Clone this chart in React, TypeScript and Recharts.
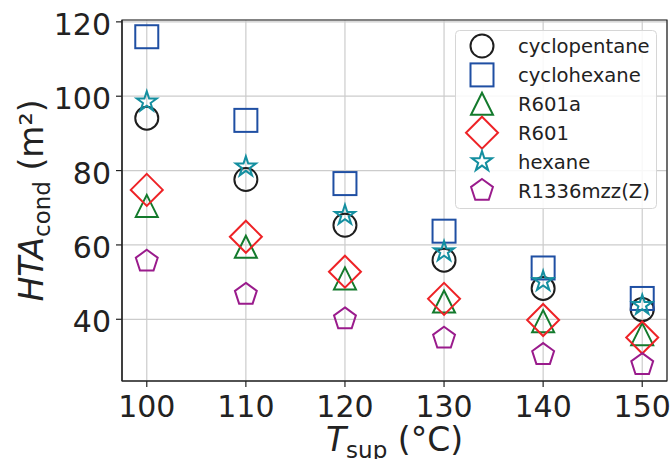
import { ScatterChart, Scatter, XAxis, YAxis, CartesianGrid, Legend, ReferenceArea } from "recharts";

const temps = [100, 110, 120, 130, 140, 150];
const cyclopentane = [94.1, 77.6, 65.3, 55.9, 48.3, 42.6];
const cyclohexane = [116.0, 93.5, 76.5, 63.7, 53.8, 45.6];
const r601a = [70.5, 59.5, 51.0, 44.8, 39.5, 36.0];
const r601 = [74.8, 62.2, 52.8, 45.5, 39.8, 35.1];
const hexane = [98.5, 81.0, 68.0, 58.2, 50.2, 43.8];
const r1336mzz = [55.6, 46.7, 40.1, 34.9, 30.5, 27.8];

const xTicks = [100, 110, 120, 130, 140, 150];
const yTicks = [40, 60, 80, 100, 120];
const xDomain = [97.5, 152.5];
const yDomain = [23.4, 120.5];

const FONT = "'DejaVu Sans', sans-serif";
const INK = "#222222";

const series = [
  { name: "cyclopentane", values: cyclopentane, kind: "circle", color: "#1e1e1e" },
  { name: "cyclohexane", values: cyclohexane, kind: "square", color: "#1f4fa3" },
  { name: "R601a", values: r601a, kind: "triangle", color: "#137a2c" },
  { name: "R601", values: r601, kind: "diamond", color: "#ee2226" },
  { name: "hexane", values: hexane, kind: "star", color: "#148fa0" },
  { name: "R1336mzz(Z)", values: r1336mzz, kind: "pentagon", color: "#9a1b8c" },
];

function polyPoints(cx: number, cy: number, pts: [number, number][]) {
  return pts.map(([x, y]) => `${cx + x},${cy + y}`).join(" ");
}

function ring(n: number, r: number, inner?: number) {
  const out: [number, number][] = [];
  const steps = inner ? n * 2 : n;
  for (let i = 0; i < steps; i++) {
    const a = -Math.PI / 2 + (i * 2 * Math.PI) / steps;
    const rad = inner && i % 2 === 1 ? inner : r;
    out.push([rad * Math.cos(a), rad * Math.sin(a)]);
  }
  return out;
}

function Marker({ kind, cx, cy, color }: { kind: string; cx: number; cy: number; color: string }) {
  const st = { fill: "none", stroke: color, strokeWidth: 2, strokeLinejoin: "miter" as const };
  if (kind === "circle") return <circle cx={cx} cy={cy} r={11.5} {...st} />;
  if (kind === "square") return <rect x={cx - 11.5} y={cy - 11.5} width={23} height={23} {...st} />;
  if (kind === "triangle")
    return <polygon points={polyPoints(cx, cy, [[0, -11], [-11, 11], [11, 11]])} {...st} />;
  if (kind === "diamond")
    return <polygon points={polyPoints(cx, cy, [[0, -16], [16, 0], [0, 16], [-16, 0]])} {...st} />;
  if (kind === "star") return <polygon points={polyPoints(cx, cy, ring(5, 10.5, 4.0))} {...st} />;
  return <polygon points={polyPoints(cx, cy, ring(5, 11.5))} {...st} />;
}

const XTick = (p: any) => (
  <text x={p.x} y={p.y} dy={29.5} textAnchor="middle" fontSize={30} fontFamily={FONT} fill={INK}>
    {p.payload.value}
  </text>
);

const YTick = (p: any) => (
  <text x={p.x} y={p.y} dy={13} textAnchor="end" fontSize={30} fontFamily={FONT} fill={INK}>
    {p.payload.value}
  </text>
);

const YLabel = (p: any) => {
  const vb = p.viewBox;
  const x = vb.x + 43;
  const y = vb.y + vb.height / 2;
  return (
    <text x={x} y={y} transform={`rotate(-90, ${x}, ${y})`} textAnchor="middle" fontSize={33} fontFamily={FONT} fill={INK}>
      <tspan fontStyle="italic">HTA</tspan>
      <tspan fontSize={23} dy={7}>cond</tspan>
      <tspan dy={-7}> (m²)</tspan>
    </text>
  );
};

const XLabel = (p: any) => {
  const vb = p.viewBox;
  const x = vb.x + vb.width / 2;
  return (
    <text x={x} y={451} textAnchor="middle" fontSize={33} fontFamily={FONT} fill={INK}>
      <tspan fontStyle="italic">T</tspan>
      <tspan fontSize={23} dy={7}>sup</tspan>
      <tspan dy={-7}> (°C)</tspan>
    </text>
  );
};

const LegendBox = () => (
  <svg width={202} height={179} style={{ display: "block" }}>
    <rect x={0.5} y={0.5} width={201} height={178} rx={4} fill="#ffffff" fillOpacity={0.85} stroke="#d6d6d6" />
    {series.map((s, i) => {
      const cy = 16 + i * 28.9;
      return (
        <g key={s.name}>
          <Marker kind={s.kind} cx={27} cy={cy} color={s.color} />
          <text x={63} y={cy} dy={7} fontSize={19.6} fontFamily={FONT} fill={INK}>
            {s.name}
          </text>
        </g>
      );
    })}
  </svg>
);

export default function App() {
  return (
    <div style={{ position: "absolute", left: 0, top: 0, width: 670, height: 459, background: "#ffffff" }}>
      <ScatterChart width={670} height={459} margin={{ top: 20, right: 3, bottom: 0, left: 0 }}>
        <CartesianGrid stroke="#cccccc" strokeWidth={1.2} />
        <XAxis
          type="number"
          dataKey="t"
          domain={xDomain}
          ticks={xTicks}
          allowDataOverflow
          height={78}
          tickSize={6}
          tickMargin={0}
          tick={XTick}
          tickLine={{ stroke: INK, strokeWidth: 1.2 }}
          axisLine={{ stroke: INK, strokeWidth: 1.2 }}
          label={<XLabel />}
        />
        <YAxis
          type="number"
          dataKey="v"
          domain={yDomain}
          ticks={yTicks}
          allowDataOverflow
          width={122}
          tickSize={6}
          tickMargin={5}
          tick={YTick}
          tickLine={{ stroke: INK, strokeWidth: 1.2 }}
          axisLine={{ stroke: INK, strokeWidth: 1.2 }}
          label={<YLabel />}
        />
        <ReferenceArea x1={xDomain[0]} x2={xDomain[1]} y1={yDomain[0]} y2={yDomain[1]} fill="none" stroke={INK} strokeWidth={1.2} />
        {series.map((s) => (
          <Scatter
            key={s.name}
            name={s.name}
            data={temps.map((t, i) => ({ t, v: s.values[i] }))}
            isAnimationActive={false}
            shape={(p: any) => <Marker kind={s.kind} cx={p.cx} cy={p.cy} color={s.color} />}
          />
        ))}
        <Legend
          layout="vertical"
          align="center"
          verticalAlign="middle"
          content={LegendBox}
          wrapperStyle={{ left: 455, top: 30, width: 202, height: 179 }}
        />
      </ScatterChart>
    </div>
  );
}
